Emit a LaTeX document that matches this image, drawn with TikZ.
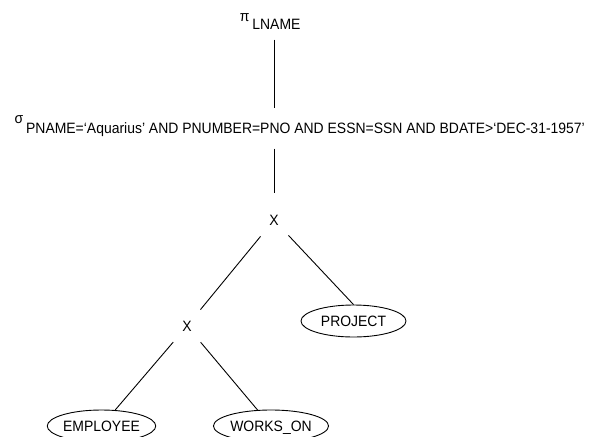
\documentclass[tikz,border=0pt]{standalone}
\usepackage{fontspec}
\setmainfont{Liberation Sans}[FakeStretch=0.93]
\usetikzlibrary{shapes.geometric}

\begin{document}
\begin{tikzpicture}[x=1pt,y=-1pt,
        every node/.style={font=\fontsize{15pt}{18pt}\selectfont},
        op/.style={circle,minimum size=42pt,inner sep=0pt},
        rel/.style={ellipse,draw,line width=0.9pt,minimum width=105pt,minimum height=32pt,inner sep=0pt,text depth=0pt},
        edge/.style={line width=0.9pt}]
            \useasboundingbox (0,0) rectangle (590,437);

            \node[anchor=base east] (pi) at (304,29) {\raisebox{8pt}{π}\hspace{3pt}LNAME};
            \node[anchor=base west] (sigma) at (11,133) {\raisebox{10pt}{σ}\hspace{3pt}PNAME=‘Aquarius’ AND PNUMBER=PNO AND ESSN=SSN AND BDATE>‘DEC-31-1957’};
            \node[op] (X1) at (274,220) {X};
            \node[op] (X2) at (187,326) {X};
            \node[rel] (PRJ) at (353.5,321) {PROJECT};
            \node[rel] (EMP) at (101.5,426) {EMPLOYEE};
            \node[rel] (WO) at (271,426) {WORKS\_ON};

            \draw[edge,shorten <=7pt,shorten >=4pt] (pi.south -| X1) to (sigma.north -| X1);
            \draw[edge,shorten <=9pt,shorten >=6pt] (sigma.south -| X1) to (X1.north);
            \draw[edge] (X1) to (X2); \draw[edge] (X1) to (PRJ.north);
            \draw[edge] (X2) to (EMP); \draw[edge] (X2) to (WO);
        \end{tikzpicture}
\end{document}
